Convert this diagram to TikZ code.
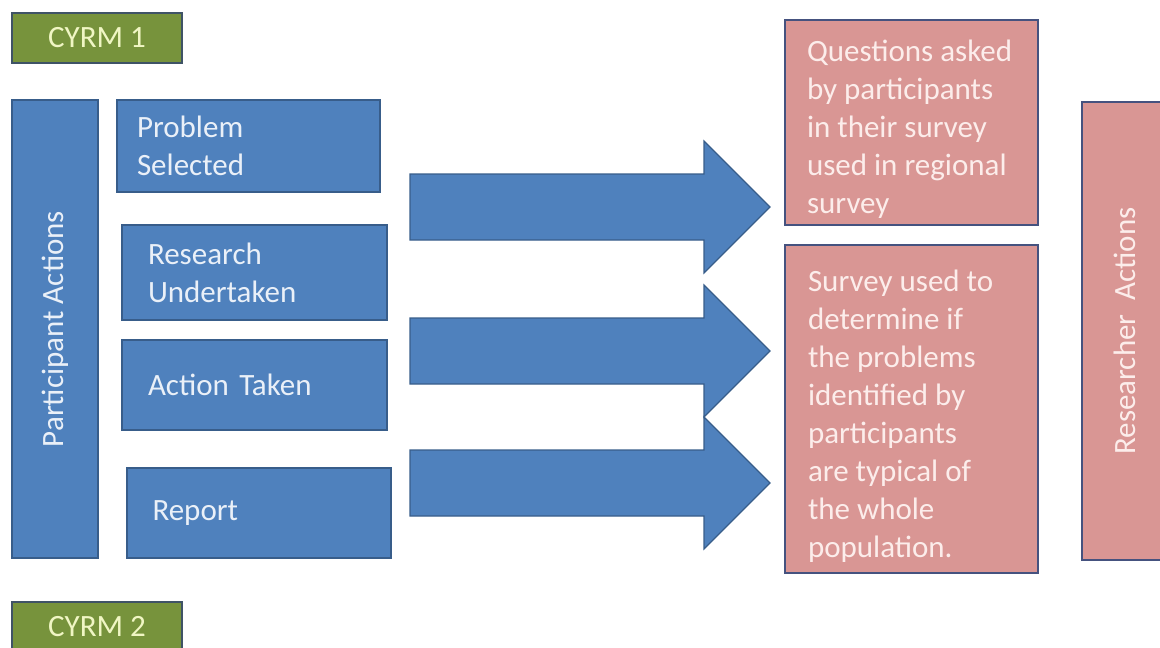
\documentclass[tikz,border=0pt]{standalone}
\usepackage{fontspec}
\setmainfont{Carlito}
\usetikzlibrary{positioning}

\definecolor{boxblue}{HTML}{4F81BD}
\definecolor{edgeblue}{HTML}{385D8A}
\definecolor{boxgreen}{HTML}{77933C}
\definecolor{edgegreen}{HTML}{3F5366}
\definecolor{boxpink}{HTML}{D99694}
\definecolor{edgepink}{HTML}{45527F}
\definecolor{txtblue}{HTML}{EAF0F8}
\definecolor{txtgreen}{HTML}{F0F6C4}
\definecolor{txtpink}{HTML}{FCEDEB}

\begin{document}
\begin{tikzpicture}[x=1pt, y=-1pt]
	\useasboundingbox (0,0) rectangle (1160,648);
	\clip (0,0) rectangle (1160,648);
	\begin{scope}
		\tikzstyle{every node}=[inner sep=0pt, outer sep=0pt, font=\fontsize{31}{38}\selectfont]
		\tikzstyle{bluebox}=[draw=edgeblue, fill=boxblue, line width=2pt, text=txtblue, align=left, inner xsep=23pt, text width=218pt]
		\tikzstyle{greenbox}=[draw=edgegreen, fill=boxgreen, line width=2pt, text=txtgreen, minimum width=170pt, minimum height=50pt]
		\tikzstyle{pinkbox}=[draw=edgepink, fill=boxpink, line width=2pt, minimum width=253pt]
		\tikzstyle{pinktext}=[text=txtpink, align=left, anchor=north west]
		\tikzstyle{bigarrow}=[draw=edgeblue, fill=boxblue, line width=1.2pt, line join=miter]

		% CYRM labels
		\node[greenbox] (cyrma) at (97, 38) {CYRM 1};
		\node[greenbox] (cyrmb) at (97, 627) {CYRM 2};

		% participant side
		\node[bluebox, rotate=90, align=center, text width=, inner xsep=0pt, minimum width=458pt, minimum height=86pt] (partact) at (55, 329) {Participant Actions};
		\node[bluebox, minimum height=92pt, inner xsep=20pt, text width=223pt] (probsel) at (248.5, 146) {Problem\\Selected};
		\node[bluebox, minimum height=95pt, inner xsep=26pt, text width=213pt] (research) at (254.5, 272.5) {Research\\Undertaken};
		\node[bluebox, minimum height=90pt, inner xsep=26pt, text width=213pt] (acttaken) at (254.5, 385) {Action Taken};
		\node[bluebox, minimum height=90pt, inner xsep=26pt, text width=212pt] (report) at (258.5, 513) {Report\\[6pt]};

		% block arrows
		\foreach \c in {207, 351, 483}
			\draw[bigarrow] (410,\c-33) -- (704,\c-33) -- (704,\c-66) -- (770,\c) -- (704,\c+66) -- (704,\c+33) -- (410,\c+33) -- cycle;

		% researcher side
		\node[pinkbox, minimum height=205pt] (quest) at (911.5, 122.5) {};
		\node[pinktext] (questtxt) at (807, 40) {Questions asked\\by participants\\in their survey\\used in regional\\survey};
		\node[pinkbox, minimum height=328pt] (survey) at (911.5, 409) {};
		\node[pinktext] (surveytxt) at (808, 270) {Survey used to\\determine if\\the problems\\identified by\\participants\\are typical of\\the whole\\population.};
		\node[pinkbox, rotate=90, minimum width=458pt, minimum height=85pt, text=txtpink] (resact) at (1124.5, 331) {Researcher\ \ Actions};
	\end{scope}
\end{tikzpicture}
\end{document}
